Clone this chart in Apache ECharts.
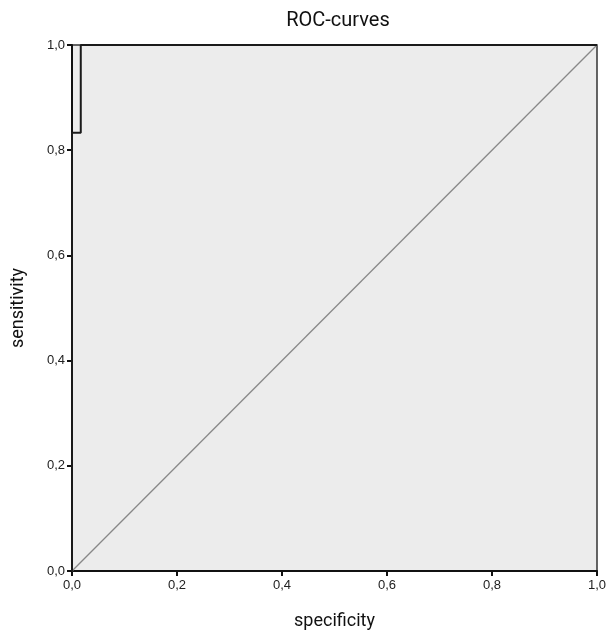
<!DOCTYPE html>
<html>
<head>
<meta charset="utf-8">
<script src="https://cdn.jsdelivr.net/npm/echarts@6/dist/echarts.min.js"></script>
<style>html,body{margin:0;padding:0;background:#fff;}#c{width:612px;height:633px;}</style>
</head>
<body>
<div id="c"></div>
<script>
var rocX = [0, 0, 0.0167, 0.0167, 1];
var rocY = [0, 0.833, 0.833, 1, 1];
var refX = [0, 1];
var refY = [0, 1];

function zip(a, b) { return a.map(function (v, i) { return [v, b[i]]; }); }
function fmt(v) { return v.toFixed(1).replace('.', ','); }

var chart = echarts.init(document.getElementById('c'), null, { renderer: 'canvas' });
var axisCommon = {
  type: 'value', min: 0, max: 1, interval: 0.2,
  axisLine: { show: true, onZero: false, lineStyle: { color: '#111', width: 2 } },
  axisTick: { show: true, inside: false, length: 5, lineStyle: { color: '#111', width: 2 } },
  axisLabel: { formatter: fmt, color: '#222', fontFamily: 'Liberation Sans, Arial', fontSize: 13 },
  splitLine: { show: false },
  nameLocation: 'middle',
  nameTextStyle: { color: '#111', fontFamily: 'Liberation Sans Narrow, Roboto, sans-serif', fontSize: 18 }
};
chart.setOption({
  animation: false,
  backgroundColor: '#fff',
  title: {
    text: 'ROC-curves', left: 333, top: 6, textAlign: 'center',
    textStyle: { fontFamily: 'Liberation Sans Narrow, Roboto, sans-serif', fontWeight: 'normal', fontSize: 20, color: '#111' }
  },
  grid: {
    left: 72, right: 15, top: 45, bottom: 62, show: true, containLabel: false, outerBoundsMode: 'none',
    backgroundColor: '#ececec', borderColor: '#333', borderWidth: 1.5
  },
  xAxis: Object.assign({}, axisCommon, { name: 'specificity', nameGap: 41, axisLabel: Object.assign({}, axisCommon.axisLabel, { margin: 8 }) }),
  yAxis: Object.assign({}, axisCommon, { name: 'sensitivity', nameGap: 45, axisLabel: Object.assign({}, axisCommon.axisLabel, { margin: 7 }) }),
  series: [
    {
      type: 'line', data: zip(refX, refY), symbol: 'none',
      lineStyle: { color: '#888', width: 1.3 }, z: 2
    },
    {
      type: 'line', data: zip(rocX, rocY), symbol: 'none',
      lineStyle: { color: '#1a1a1a', width: 2 }, z: 3
    }
  ]
});
</script>
</body>
</html>
